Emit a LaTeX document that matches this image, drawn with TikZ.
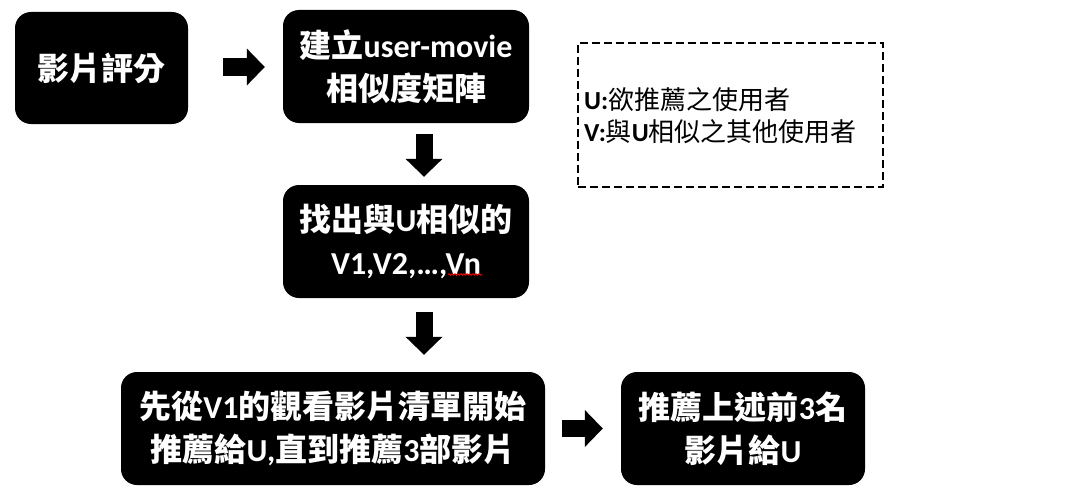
\documentclass[tikz,border=0pt]{standalone}
\usepackage{fontspec}
\setmainfont{Noto Sans CJK TC}
\newfontfamily\latfont{Carlito}
\usetikzlibrary{arrows.meta,calc,decorations.pathmorphing}
\newcommand\LT[1]{{\latfont\bfseries #1}}
\tikzset{
  box/.style={fill=black, rounded corners=16pt, inner sep=0pt, text=white, align=center,
    font=\fontsize{32pt}{43pt}\selectfont\bfseries},
  barrow/.style={line width=17pt, line cap=butt, -{Triangle[width=36pt,length=18pt]}},
  legend/.style={draw=black, dashed, dash pattern=on 8pt off 4pt, line width=2pt, inner sep=0pt},
  legtext/.style={align=left, inner sep=0pt, font=\fontsize{26pt}{32pt}\selectfont}
}
\begin{document}
\begin{tikzpicture}[x=1pt,y=-1pt]
\useasboundingbox (0,0) rectangle (1083,495);
\node[box, minimum width=173pt, minimum height=112pt] (b1) at (101.5,68) {影片評分};
\node[box, minimum width=246pt, minimum height=113pt] (b2) at (406,66.5) {建立\LT{user-movie}\\相似度矩陣};
\node[box, minimum width=246pt, minimum height=113pt] (b3) at (406,241.5) {找出與\LT{U}相似的\\\LT{V1,V2,…,Vn}};
\node[box, minimum width=424pt, minimum height=113pt] (b4) at (333,428.5) {先從\LT{V1}的觀看影片清單開始\\推薦給\LT{U,}直到推薦\LT{3}部影片};
\node[box, minimum width=244pt, minimum height=113pt] (b5) at (743,428.5) {推薦上述前\LT{3}名\\影片給\LT{U}};
\node[legend, minimum width=305pt, minimum height=144pt] (lg) at (730.5,115) {};
\node[legtext, anchor=west] (lgt) at ($(lg.west)+(7,1)$) {\LT{U:}欲推薦之使用者\\\LT{V:}與\LT{U}相似之其他使用者};
\draw[barrow] ($(b1.east)+(35,-1)$) coordinate (a1s) -- ($(b2.west |- b1.east)+(-18,-1)$) coordinate (a1e);
\draw[barrow] ($(b2.south)+(18,11)$) coordinate (a2s) -- ($(b3.north)+(18,-8)$) coordinate (a2e);
\draw[barrow] ($(b3.south)+(18,14)$) coordinate (a3s) -- ($(b4.north -| b3.south)+(18,-17)$) coordinate (a3e);
\draw[barrow] ($(b4.east)+(17,0)$) coordinate (a4s) -- ($(b5.west)+(-18,0)$) coordinate (a4e);
\draw[red, line width=0.8pt, decorate, decoration={snake, segment length=3pt, amplitude=0.8pt}] ($(b3.center)+(42,33)$) coordinate (sq) -- ++(34,0);
\end{tikzpicture}
\end{document}
